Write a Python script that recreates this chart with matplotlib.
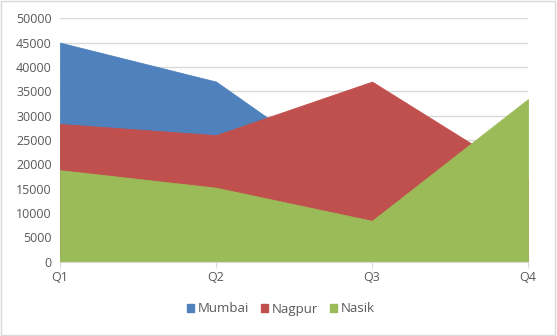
import matplotlib
matplotlib.use("Agg")
import matplotlib.pyplot as plt
from matplotlib.patches import Patch

# Data
quarters = ["Q1", "Q2", "Q3", "Q4"]
mumbai = [45000, 37000, 14500, 16000]
nagpur = [28300, 26000, 37000, 17000]
nasik = [18800, 15200, 8400, 33400]

series = [("Mumbai", mumbai, "#4F81BD"),
          ("Nagpur", nagpur, "#C0504D"),
          ("Nasik", nasik, "#9BBB59")]

plt.rcParams['font.family'] = ['Open Sans', 'DejaVu Sans']
text_color = "#595959"
grid_color = "#D9D9D9"

fig = plt.figure(figsize=(5.57, 3.36), dpi=100)
ax = fig.add_axes([60 / 557, 1 - 261.7 / 336, (528 - 60) / 557, (261.7 - 18.3) / 336])

x = list(range(len(quarters)))
for name, vals, color in series:
    # thin edge in the fill colour hides antialiasing seams between areas
    ax.fill_between(x, 0, vals, facecolor=color, edgecolor=color, linewidth=0.6, zorder=2)

ax.set_xlim(0, len(quarters) - 1)
ax.set_ylim(0, 50000)
ax.set_yticks(range(0, 50001, 5000))
ax.set_xticks(x)
ax.set_xticklabels(quarters)

ax.grid(axis='y', color=grid_color, linewidth=1, zorder=0)
ax.set_axisbelow(True)
for side in ['top', 'right', 'left']:
    ax.spines[side].set_visible(False)
ax.spines['bottom'].set_color(grid_color)
ax.spines['bottom'].set_zorder(3)
ax.tick_params(axis='y', length=0, pad=6, labelsize=9, labelcolor=text_color)
ax.tick_params(axis='x', length=4, color=grid_color, pad=3, labelsize=9, labelcolor=text_color)

handles = [Patch(color=c, label=n) for n, _, c in series]
fig.legend(handles=handles, loc='center', bbox_to_anchor=(281 / 557, 1 - 309 / 336), ncol=3,
           frameon=False, fontsize=9.5, labelcolor=text_color, handlelength=0.53,
           handleheight=0.53, handletextpad=0.3, columnspacing=0.9)

# light outer border like the chart frame
fig.patches.append(plt.Rectangle((0.002, 0.003), 0.995, 0.994, transform=fig.transFigure,
                                 fill=False, edgecolor=grid_color, linewidth=1))

fig.savefig("out.png", dpi=100)
